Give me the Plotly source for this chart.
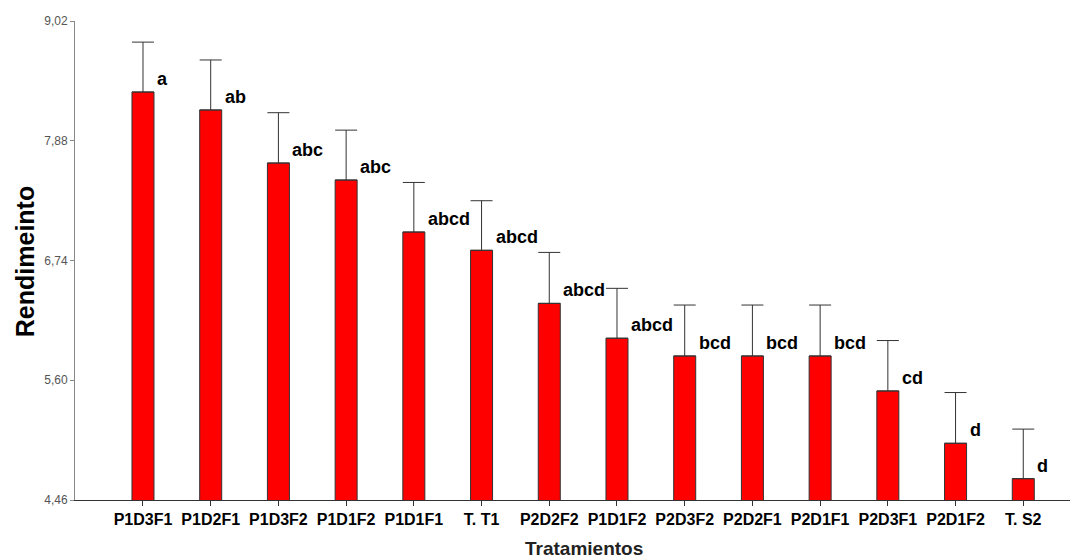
import plotly.graph_objects as go

categories = ["P1D3F1", "P1D2F1", "P1D3F2", "P1D1F2", "P1D1F1", "T. T1", "P2D2F2",
              "P1D1F2", "P2D3F2", "P2D2F1", "P2D1F1", "P2D3F1", "P2D1F2", "T. S2"]
rendimiento = [8.344, 8.173, 7.668, 7.506, 7.011, 6.837, 6.332,
               6.000, 5.831, 5.831, 5.831, 5.498, 5.000, 4.663]
error_sup = [0.475, 0.476, 0.479, 0.475, 0.472, 0.472, 0.485,
             0.475, 0.485, 0.485, 0.485, 0.48, 0.483, 0.472]
letras = ["a", "ab", "abc", "abc", "abcd", "abcd", "abcd",
          "abcd", "bcd", "bcd", "bcd", "cd", "d", "d"]
y_ticks = [4.46, 5.60, 6.74, 7.88, 9.02]

x = list(range(len(categories)))
FONT = "Arial, 'Liberation Sans', sans-serif"

fig = go.Figure()
fig.add_trace(go.Bar(
    x=x, y=rendimiento, base=0, width=0.325,
    marker=dict(color="#ff0000", line=dict(color="#333333", width=1)),
    error_y=dict(type="data", symmetric=False, array=error_sup,
                 arrayminus=[0] * len(x), color="#333333", thickness=1, width=11),
    showlegend=False,
))

for xi, yi, e, t in zip(x, rendimiento, error_sup, letras):
    fig.add_annotation(x=xi, y=yi, text=t, showarrow=False, xanchor="left",
                       yanchor="bottom", xshift=13, yshift=2, borderpad=0,
                       font=dict(family=FONT, size=18, color="#000000", weight="bold"))

fig.add_annotation(xref="paper", yref="paper", x=0.512, y=0, yshift=-48,
                   text="Tratamientos", showarrow=False, xanchor="center", yanchor="middle",
                   font=dict(family=FONT, size=19, color="#222222", weight="bold"))
fig.add_annotation(xref="paper", yref="paper", x=-0.05, y=0.497,
                   text="Rendimeinto", showarrow=False, textangle=-90,
                   xanchor="center", yanchor="middle",
                   font=dict(family=FONT, size=25, color="#000000", weight="bold"))

fig.update_layout(
    width=1072, height=559,
    margin=dict(l=75, r=2, t=21, b=59),
    plot_bgcolor="white", paper_bgcolor="white",
    separators=",.",
    xaxis=dict(range=[-1.004, 13.69], tickmode="array", tickvals=x, ticktext=categories,
               showgrid=False, zeroline=False, showline=True, linecolor="#333333", linewidth=1,
               ticks="outside", ticklen=5, tickcolor="#333333",
               tickfont=dict(family=FONT, size=16, color="#000000", weight="bold")),
    yaxis=dict(range=[4.46, 9.02], tickmode="array", tickvals=y_ticks, tickformat=".2f",
               showgrid=False, zeroline=False, showline=True, linecolor="#888888", linewidth=1,
               ticks="outside", ticklen=4, tickcolor="#888888",
               tickfont=dict(family=FONT, size=12, color="#555555")),
)

fig.write_html("out.html")
